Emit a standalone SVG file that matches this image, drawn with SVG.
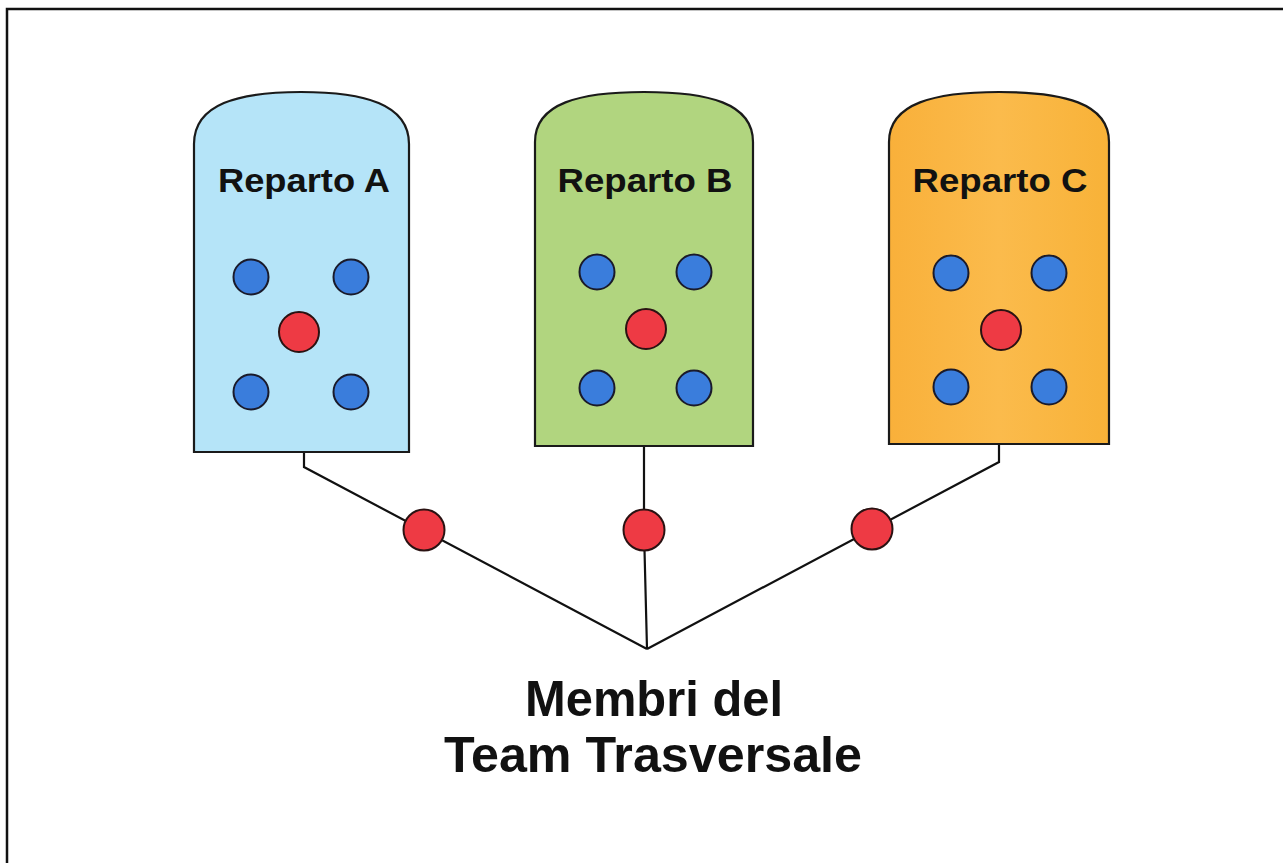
<svg xmlns="http://www.w3.org/2000/svg" width="1283" height="863" viewBox="0 0 1283 863">
<style>
.dept{stroke:#1a1a1a;stroke-width:2.2}
.title{font-family:"Liberation Sans",Arial,sans-serif;font-weight:bold;font-size:34px;fill:#111;text-anchor:middle}
.big{font-family:"Liberation Sans",Arial,sans-serif;font-weight:bold;font-size:50px;fill:#111;text-anchor:middle}
.blue{fill:#3a7ddc;stroke:#1a1a2a;stroke-width:2}
.red{fill:#ee3a44;stroke:#2a1212;stroke-width:2}
.conn{stroke:#111;stroke-width:2.2;fill:none}
</style>
<defs>
<linearGradient id="gC" x1="0" y1="0" x2="1" y2="0">
<stop offset="0" stop-color="#f9b03a"/><stop offset="0.5" stop-color="#fbbb4c"/><stop offset="1" stop-color="#f8b238"/>
</linearGradient>
</defs>
<rect width="1283" height="863" fill="#fff"/>
<path d="M7,863 L7,9 L1283,9" fill="none" stroke="#111" stroke-width="2.5"/>
<g id="connectors">
<polyline class="conn" points="304,452 304,467 647,649"/>
<polyline class="conn" points="644,447 644,530 647,649"/>
<polyline class="conn" points="999,444 999,462 647,649"/>
<circle class="red" cx="424" cy="530" r="20.5"/>
<circle class="red" cx="644" cy="530" r="20.5"/>
<circle class="red" cx="872" cy="529" r="20.5"/>
</g>
<g id="repartoA">
<path class="dept" fill="#b5e4f8" d="M194,452 L194,144 C194,104 238,92 301,92 C364,92 409,104 409,144 L409,452 Z"/>
<text class="title" x="304" y="192" textLength="172" lengthAdjust="spacingAndGlyphs">Reparto A</text>
<circle class="blue" cx="251" cy="277" r="17.5"/>
<circle class="blue" cx="351" cy="277" r="17.5"/>
<circle class="red" cx="299" cy="332" r="20"/>
<circle class="blue" cx="251" cy="392" r="17.5"/>
<circle class="blue" cx="351" cy="392" r="17.5"/>
</g>
<g id="repartoB">
<path class="dept" fill="#b1d57f" d="M535,446 L535,142 C535,103 580,92 644,92 C708,92 753,103 753,142 L753,446 Z"/>
<text class="title" x="645" y="192" textLength="175" lengthAdjust="spacingAndGlyphs">Reparto B</text>
<circle class="blue" cx="597" cy="272" r="17.5"/>
<circle class="blue" cx="694" cy="272" r="17.5"/>
<circle class="red" cx="646" cy="329" r="20"/>
<circle class="blue" cx="597" cy="388" r="17.5"/>
<circle class="blue" cx="694" cy="388" r="17.5"/>
</g>
<g id="repartoC">
<path class="dept" fill="url(#gC)" d="M889,444 L889,142 C889,103 935,92 999,92 C1063,92 1109,103 1109,142 L1109,444 Z"/>
<text class="title" x="1000" y="192" textLength="175" lengthAdjust="spacingAndGlyphs">Reparto C</text>
<circle class="blue" cx="951" cy="273" r="17.5"/>
<circle class="blue" cx="1049" cy="273" r="17.5"/>
<circle class="red" cx="1001" cy="330" r="20"/>
<circle class="blue" cx="951" cy="387" r="17.5"/>
<circle class="blue" cx="1049" cy="387" r="17.5"/>
</g>
<g id="team">
<text class="big" x="654" y="716" textLength="258" lengthAdjust="spacingAndGlyphs">Membri del</text>
<text class="big" x="653" y="772" textLength="418" lengthAdjust="spacingAndGlyphs">Team Trasversale</text>
</g>
</svg>
